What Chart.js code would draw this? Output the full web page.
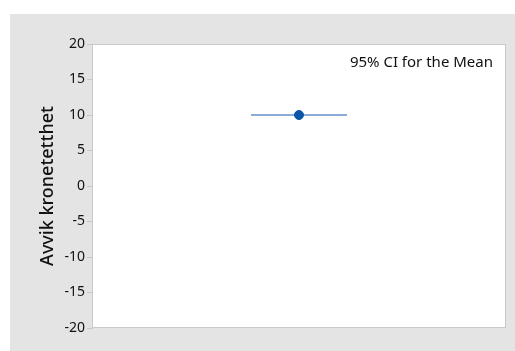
<!DOCTYPE html>
<html>
<head>
<meta charset="utf-8">
<script src="https://cdn.jsdelivr.net/npm/chart.js@4"></script>
<style>
  html, body { margin: 0; padding: 0; background: #ffffff; }
  #wrap { width: 515px; height: 351px; }
</style>
</head>
<body>
<div id="wrap"><canvas id="ciChart"></canvas></div>
<script>
// data
const groups = [1];
const means = [10];
const ciLower = [10];
const ciUpper = [10];
const yTicks = [-20, -15, -10, -5, 0, 5, 10, 15, 20];

const colorPanel = '#e4e4e4';
const colorFrame = '#c9c9c9';
const colorMean = '#0a55a8';
const colorBar = '#8cadda';
const fontFamily = '"Noto Sans", "Open Sans", sans-serif';

// grey background panel + frame around the plot area
const panelPlugin = {
  id: 'panel',
  beforeDraw(chart) {
    const ctx = chart.ctx;
    const a = chart.chartArea;
    ctx.save();
    ctx.fillStyle = colorPanel;
    ctx.fillRect(10, 14, chart.width - 10, chart.height - 14);
    ctx.fillStyle = '#ffffff';
    ctx.fillRect(a.left, a.top, a.right - a.left, a.bottom - a.top);
    ctx.restore();
  },
  afterDraw(chart) {
    const ctx = chart.ctx;
    const a = chart.chartArea;
    ctx.save();
    ctx.strokeStyle = colorFrame;
    ctx.lineWidth = 1;
    ctx.strokeRect(a.left + 0.5, a.top + 0.5, a.right - a.left - 1, a.bottom - a.top - 1);
    ctx.fillStyle = '#111111';
    ctx.font = '15px ' + fontFamily;
    ctx.textAlign = 'right';
    ctx.textBaseline = 'middle';
    ctx.fillText('95% CI for the Mean', a.right - 13, a.top + 19);
    ctx.restore();
  }
};

// CI bars: vertical segment from lower to upper with horizontal caps
const ciPlugin = {
  id: 'ciBars',
  beforeDatasetsDraw(chart) {
    const ctx = chart.ctx;
    const xs = chart.scales.x, ys = chart.scales.y;
    const capHalf = 48;
    ctx.save();
    ctx.strokeStyle = colorBar;
    ctx.lineWidth = 2;
    groups.forEach((g, i) => {
      const px = xs.getPixelForValue(g);
      const lo = ys.getPixelForValue(ciLower[i]);
      const hi = ys.getPixelForValue(ciUpper[i]);
      ctx.beginPath();
      ctx.moveTo(px, lo); ctx.lineTo(px, hi);
      ctx.moveTo(px - capHalf, lo); ctx.lineTo(px + capHalf, lo);
      ctx.moveTo(px - capHalf, hi); ctx.lineTo(px + capHalf, hi);
      ctx.stroke();
    });
    ctx.restore();
  }
};

new Chart(document.getElementById('ciChart'), {
  type: 'scatter',
  data: {
    datasets: [{
      data: groups.map((g, i) => ({ x: g, y: means[i] })),
      backgroundColor: colorMean,
      borderColor: colorMean,
      pointRadius: 4.5,
      pointHoverRadius: 4.5
    }]
  },
  options: {
    responsive: true,
    maintainAspectRatio: false,
    animation: false,
    layout: { padding: { left: 0, right: 9, top: 44, bottom: 23 } },
    scales: {
      x: { display: false, min: 0, max: 2 },
      y: {
        min: -20, max: 20,
        afterBuildTicks(scale) { scale.ticks = yTicks.map(v => ({ value: v })); },
        afterFit(scale) { scale.width = 92; },
        border: { display: true, color: colorFrame },
        grid: { drawOnChartArea: false, tickLength: 5, color: colorFrame },
        ticks: { color: '#111111', padding: 2, font: { family: fontFamily, size: 14 } },
        title: {
          display: true,
          text: 'Avvik kronetetthet',
          color: '#111111',
          padding: { top: 37, bottom: 0 },
          font: { family: fontFamily, size: 18, weight: '500' }
        }
      }
    },
    plugins: { legend: { display: false }, tooltip: { enabled: false } }
  },
  plugins: [panelPlugin, ciPlugin]
});
</script>
</body>
</html>
